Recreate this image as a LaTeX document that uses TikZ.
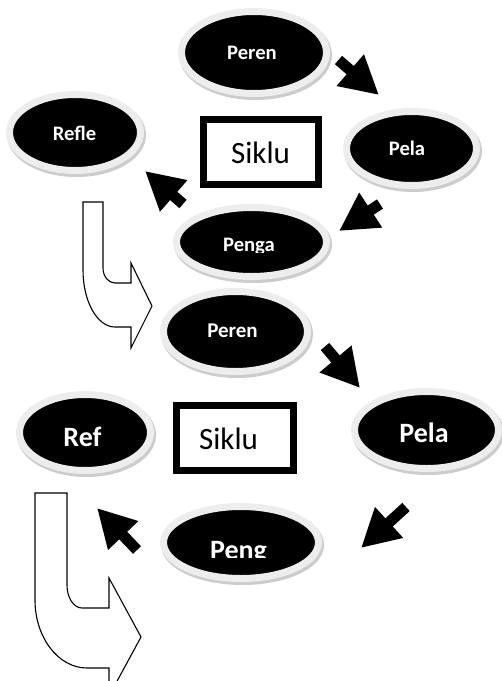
\documentclass[tikz,border=0pt]{standalone}
\usepackage{fontspec}
\setmainfont{Carlito}
\usetikzlibrary{arrows.meta,shapes.geometric}
\begin{document}
\begin{tikzpicture}[x=1pt,y=-1pt,
  oval/.style={ellipse, fill=black, draw=black!7, line width=7pt, inner sep=0pt, outer sep=0pt,
    preaction={draw=black!20, line width=8pt, transform canvas={xshift=1.5pt,yshift=-2.5pt}}},
  lbl/.style={anchor=base, text=white, inner sep=0pt, outer sep=0pt},
  lsmall/.style={lbl, font=\fontsize{20.6}{24}\selectfont\bfseries},
  lbig/.style={lbl, font=\fontsize{28}{32}\selectfont\bfseries},
  sbox/.style={draw=black, line width=7pt, fill=white, inner sep=0pt, minimum width=115pt, minimum height=65pt},
  stxt/.style={anchor=base, inner sep=0pt, font=\fontsize{31}{36}\selectfont},
  blk/.style={line width=11pt, -{Triangle[length=38pt,width=39pt]}},
  uarrow/.style={draw=black, line width=1.1pt, fill=white, line join=miter}
]
\useasboundingbox (0,0) rectangle (502,681);
\clip (0,0) rectangle (502,681);

% ---------- top cycle ----------
\node[oval, minimum width=145pt, minimum height=82pt] (peren1) at (254,52.5) {};
\node[oval, minimum width=130pt, minimum height=74pt] (pela1) at (411.5,148.5) {};
\node[oval, minimum width=131pt, minimum height=76pt] (refle1) at (75,132.5) {};
\node[oval, minimum width=150pt, minimum height=69pt] (penga1) at (251.5,242) {};
\node[sbox] (box1) at (261,152) {};

\node[lsmall] (tperen1) at (252,59) {Peren};
\node[lsmall] (tpela1) at (407,155) {Pela};
\node[lsmall] (trefle1) at (74.5,140) {Refle};
\begin{scope}
  \clip (180,200) rectangle (330,252);
  \node[lsmall] (tpenga1) at (249,251) {Penga};
\end{scope}
\node[stxt] (tsiklu1) at (260.5,163) {Siklu};

\coordinate (t1a) at (338.5,60);  \coordinate (t1b) at (379,95);
\coordinate (t2a) at (380,204);   \coordinate (t2b) at (339,231);
\coordinate (t3a) at (183,204);   \coordinate (t3b) at (145,171);
\draw[blk] (t1a) -- (t1b);
\draw[blk] (t2a) -- (t2b);
\draw[blk] (t3a) -- (t3b);

% top U-turn arrow
\draw[uarrow] (83,202) -- (103,202) -- (103,268)
  .. controls (103,276.3) and (108.4,283) .. (115,283)
  -- (131,283) -- (131,263) -- (152,306) -- (131,348) -- (131,327) -- (115,327)
  .. controls (97.3,327) and (83,301.5) .. (83,270) -- cycle;

% ---------- bottom cycle ----------
\node[oval, minimum width=144pt, minimum height=80pt] (peren2) at (235.5,331.5) {};
\node[oval, minimum width=144pt, minimum height=77pt] (pela2) at (426.5,430) {};
\node[oval, minimum width=131pt, minimum height=76pt] (ref2) at (85,432.5) {};
\node[oval, minimum width=155pt, minimum height=72pt] (peng2) at (241,542.5) {};
\node[sbox, minimum width=117pt] (box2) at (235,438) {};

\node[lsmall, font=\fontsize{21}{24}\selectfont\bfseries] (tperen2) at (232.5,337) {Peren};
\node[lbig] (tref2) at (82.5,446) {Ref};
\node[lbig] (tpela2) at (424,442) {Pela};
\begin{scope}
  \clip (170,520) rectangle (320,557);
  \node[lbig] (tpeng2) at (238.5,559) {Peng};
\end{scope}
\node[stxt] (tsiklu2) at (228.5,449) {Siklu};

\coordinate (b1a) at (325,346.5); \coordinate (b1b) at (360,388);
\coordinate (b2a) at (406,507);   \coordinate (b2b) at (361,548);
\coordinate (b3a) at (137,550);   \coordinate (b3b) at (97,508);
\draw[blk] (b1a) -- (b1b);
\draw[blk] (b2a) -- (b2b);
\draw[blk] (b3a) -- (b3b);

% bottom U-turn arrow
\draw[uarrow] (35,493) -- (67,493) -- (67,585)
  .. controls (67,597.7) and (73.7,608) .. (82,608)
  -- (109,608) -- (109,578) -- (141,637) -- (109,696) -- (109,668) -- (87,668)
  .. controls (58.3,668) and (35,637.5) .. (35,600) -- cycle;
\end{tikzpicture}
\end{document}
